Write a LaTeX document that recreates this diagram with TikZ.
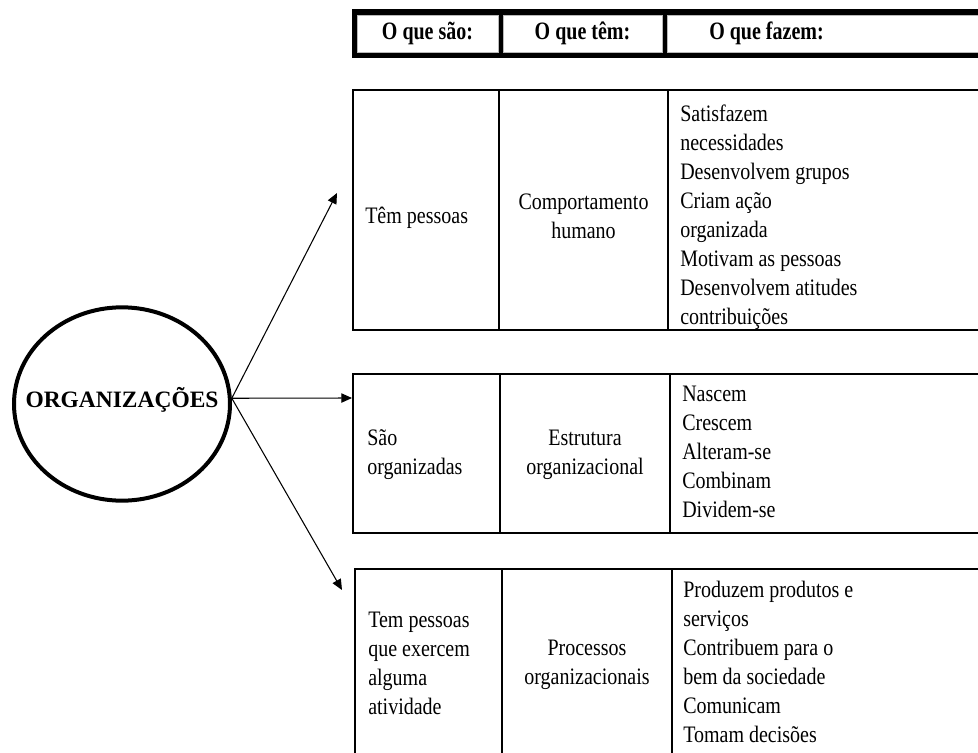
\documentclass[tikz,border=0pt]{standalone}
\usepackage{fontspec}
\usepackage{graphicx}
\setmainfont{Liberation Serif}
\usetikzlibrary{shapes.geometric,arrows.meta}
% vertically stretched stack of lines, column type #1
\newcommand{\stk}[3][1.18]{\scalebox{1}[#1]{\begin{tabular}{@{}#2@{}}#3\end{tabular}}}
\begin{document}
\begin{tikzpicture}[x=0.75pt,y=-0.75pt,
  txt/.style={inner sep=0pt, font={\fontsize{15}{18.4}\selectfont}},
  lefttxt/.style={txt, anchor=west},
  midtxt/.style={txt, anchor=center},
  headtxt/.style={inner sep=0pt, font={\fontsize{15}{18}\selectfont\bfseries}},
  headcell/.style={fill=white, draw=gray!55, line width=0.5pt},
  rowbox/.style={draw=black, line width=1.3pt},
  link/.style={draw=black, line width=0.8pt, -{Triangle[length=8pt,width=7pt]}}]
\useasboundingbox (0,0) rectangle (978,753);
\clip (0,0) rectangle (978,753);

% header band: thick black frame with three white cells
\fill[black] (352,9) rectangle (990,58);
\path[headcell] (357,15) rectangle (498,52);
\path[headcell] (503,15) rectangle (662,52);
\path[headcell] (667,15) rectangle (995,52);
\node[headtxt] (h1) at (427.5,33.5) {\stk[1.25]{c}{O que são:}};
\node[headtxt] (h2) at (582.5,33.5) {\stk[1.25]{c}{O que têm:}};
\node[headtxt] (h3) at (766.5,33.5) {\stk[1.25]{c}{O que fazem:}};

% row frames
\draw[rowbox] (353,90) rectangle (990,330);
\draw[rowbox] (499,90) -- (499,330);
\draw[rowbox] (668,90) -- (668,330);

\draw[rowbox] (353,374) rectangle (990,533);
\draw[rowbox] (500,374) -- (500,533);
\draw[rowbox] (670,374) -- (670,533);

\draw[rowbox] (355,569) rectangle (990,770);
\draw[rowbox] (502,569) -- (502,770);
\draw[rowbox] (672,569) -- (672,770);

% row 1
\node[lefttxt] (r1a) at (365,218) {\stk{l}{Têm pessoas}};
\node[midtxt] (r1b) at (583.5,218) {\stk{c}{Comportamento\\humano}};
\node[lefttxt] (r1c) at (680,217) {\stk{l}{Satisfazem\\necessidades\\Desenvolvem grupos\\Criam ação\\organizada\\Motivam as pessoas\\Desenvolvem atitudes\\contribuições}};

% row 2
\node[lefttxt] (r2a) at (367,454) {\stk{l}{São\\organizadas}};
\node[midtxt] (r2b) at (585,454) {\stk{c}{Estrutura\\organizacional}};
\node[lefttxt] (r2c) at (682,453.5) {\stk{l}{Nascem\\Crescem\\Alteram-se\\Combinam\\Dividem-se}};

% row 3
\node[lefttxt] (r3a) at (368,665) {\stk{l}{Tem pessoas\\que exercem\\alguma\\atividade}};
\node[midtxt] (r3b) at (587,664) {\stk{c}{Processos\\organizacionais}};
\node[lefttxt] (r3c) at (683,664.5) {\stk{l}{Produzem produtos e\\serviços\\Contribuem para o\\bem da sociedade\\Comunicam\\Tomam decisões}};

% central ellipse and its label
\node[ellipse, draw=black, line width=3pt, minimum width=162pt, minimum height=145pt,
      inner sep=0pt] (org) at (122,404) {};
\node[inner sep=0pt, font={\fontsize{17.6}{20}\selectfont\bfseries}] (orglabel) at (122,400) {ORGANIZAÇÕES};

% arrow targets
\coordinate (t1) at (337,193);
\coordinate (t2) at (352,398);
\coordinate (t3) at (342,590);

\draw[link] (org.3) -- (t1);
\draw[link] (org.3) -- (t2);
\draw[link] (org.3) -- (t3);
\end{tikzpicture}
\end{document}
